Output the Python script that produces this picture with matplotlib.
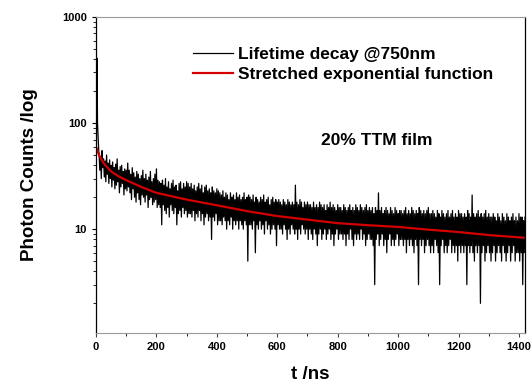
import numpy as np
import matplotlib.pyplot as plt
from matplotlib.ticker import LogLocator, NullFormatter, FixedLocator, MultipleLocator

plt.rcParams['font.family'] = ['Liberation Sans', 'DejaVu Sans']
plt.rcParams['font.weight'] = 'bold'

# early spike (1 ns bins)
t_early = [0, 1, 2, 3, 4, 5, 6, 7, 8, 9]
c_early = [30, 45, 120, 410, 260, 100, 85, 70, 60, 55]

# rest of the decay: 5 ns bins from 10 to 1420 ns, high and low count in each bin
t_main = np.arange(10, 1421, 5)
c_hi = [
    52, 48, 55, 46, 44, 50, 42, 45, 40, 43, 38, 41, 46, 36, 39, 40, 35, 37, 36, 42,
    36, 33, 38, 34, 31, 35, 33, 30, 32, 36, 30, 33, 29, 31, 35, 28, 30, 33, 37, 29,
    28, 27, 29, 26, 30, 25, 28, 24, 27, 29, 25, 26, 23, 27, 28, 24, 27, 25, 28, 27,
    25, 27, 24, 26, 23, 25, 27, 24, 26, 22, 25, 26, 23, 24, 22, 25, 23, 22, 24, 23,
    22, 21, 23, 20, 22, 21, 19, 22, 20, 21, 19, 22, 20, 21, 19, 20, 22, 19, 20, 21,
    20, 19, 21, 18, 20, 19, 18, 20, 19, 21, 18, 19, 20, 17, 19, 20, 18, 19, 18, 19,
    18, 17, 19, 18, 17, 19, 18, 17, 18, 17, 26, 18, 17, 19, 18, 16, 18, 17, 18, 17,
    17, 16, 18, 16, 17, 16, 18, 17, 16, 17, 15, 17, 16, 18, 16, 17, 16, 15, 17, 16,
    16, 15, 17, 16, 15, 16, 17, 15, 16, 15, 17, 16, 15, 17, 16, 15, 16, 17, 15, 16,
    15, 16, 14, 16, 15, 22, 15, 16, 14, 15, 16, 15, 14, 16, 15, 14, 16, 15, 14, 15,
    15, 14, 15, 16, 14, 15, 14, 16, 15, 14, 15, 14, 16, 15, 14, 15, 14, 15, 16, 14,
    14, 15, 14, 13, 15, 14, 13, 15, 14, 13, 14, 15, 13, 14, 15, 13, 14, 13, 15, 14,
    14, 13, 14, 13, 15, 14, 13, 21, 14, 13, 14, 15, 13, 14, 13, 14, 15, 13, 14, 13,
    13, 14, 13, 12, 14, 13, 12, 14, 13, 12, 14, 13, 12, 13, 14, 12, 13, 12, 14, 13,
    13, 12, 13,
]
c_lo = [
    36, 30, 38, 31, 28, 33, 27, 30, 25, 29, 24, 26, 28, 22, 25, 27, 21, 24, 23, 25,
    22, 19, 24, 20, 18, 22, 19, 17, 21, 20, 18, 21, 16, 19, 20, 17, 18, 19, 16, 17,
    16, 11, 17, 15, 14, 16, 13, 17, 15, 14, 16, 11, 14, 15, 13, 16, 14, 15, 13, 14,
    14, 13, 15, 12, 14, 13, 15, 12, 14, 11, 13, 14, 12, 13, 8, 13, 12, 14, 11, 12,
    12, 11, 13, 12, 10, 12, 11, 13, 10, 12, 11, 12, 10, 12, 11, 10, 12, 11, 5, 11,
    11, 10, 12, 6, 11, 10, 12, 10, 11, 9, 12, 10, 11, 9, 10, 11, 10, 7, 11, 10,
    10, 9, 11, 10, 8, 10, 9, 11, 10, 9, 10, 8, 10, 9, 11, 10, 9, 10, 8, 10,
    9, 8, 10, 9, 7, 9, 10, 8, 9, 10, 8, 9, 10, 8, 9, 7, 9, 10, 8, 9,
    9, 8, 9, 7, 9, 8, 10, 8, 7, 9, 8, 9, 8, 10, 8, 9, 7, 8, 9, 8,
    8, 7, 3, 8, 9, 7, 8, 9, 7, 8, 6, 8, 9, 7, 8, 7, 8, 9, 7, 8,
    8, 7, 8, 6, 8, 7, 8, 7, 6, 8, 7, 3, 8, 7, 8, 6, 7, 8, 7, 6,
    7, 6, 8, 7, 6, 3, 7, 8, 6, 7, 6, 7, 8, 6, 7, 6, 7, 5, 7, 6,
    7, 6, 7, 3, 7, 6, 7, 6, 5, 7, 6, 7, 2, 6, 7, 5, 6, 7, 6, 5,
    6, 7, 5, 6, 7, 6, 5, 7, 6, 5, 6, 7, 5, 6, 7, 5, 6, 6, 5, 6,
    3, 6, 5,
]

# stretched exponential fit
t_fit = [0, 10, 25, 50, 75, 100, 150, 200, 300, 400, 500, 600, 700, 800,
         900, 1000, 1100, 1200, 1300, 1420]
c_fit = [60, 50, 42, 35, 31.5, 29, 25, 22, 19, 16.8, 14.8, 13.3, 12.3, 11.4,
         10.9, 10.5, 9.9, 9.4, 8.8, 8.3]

# zig-zag through high/low of each bin so the trace reads like the raw histogram
t_zz = np.column_stack([t_main, t_main + 2.5]).ravel()
c_zz = np.column_stack([c_hi, c_lo]).ravel()
t_all = np.concatenate([t_early, t_zz])
c_all = np.concatenate([c_early, c_zz])
keep = t_all <= 1420
t_all, c_all = t_all[keep], c_all[keep]

fig = plt.figure(figsize=(5.31, 3.83), dpi=100)
ax = fig.add_axes([0.1808, 0.1305, 0.8079, 0.8251])

ax.plot(t_all, c_all, color='black', lw=0.9, label='Lifetime decay @750nm')
ax.plot(t_fit, c_fit, color='#d40000', lw=1.6, label='Stretched exponential function')

ax.set_yscale('log')
ax.set_xlim(0, 1420)
ax.set_ylim(1.05, 1000)

ax.yaxis.set_major_locator(FixedLocator([10, 100, 1000]))
ax.yaxis.set_minor_locator(LogLocator(base=10, subs=np.arange(2, 10)))
ax.yaxis.set_minor_formatter(NullFormatter())
ax.set_yticklabels(['10', '100', '1000'])
ax.xaxis.set_major_locator(MultipleLocator(200))
ax.xaxis.set_minor_locator(MultipleLocator(100))

ax.tick_params(axis='both', which='major', labelsize=8, length=3, width=0.8)
ax.tick_params(axis='both', which='minor', length=2, width=0.6)
ax.tick_params(axis='x', colors='#444444', labelcolor='black')

for s in ['top', 'bottom']:
    ax.spines[s].set_color('#999999')
for s in ['left', 'right']:
    ax.spines[s].set_color('black')
    ax.spines[s].set_linewidth(0.9)

ax.set_xlabel('t /ns', fontsize=13.5, fontweight='bold', labelpad=10)
ax.set_ylabel('Photon Counts /log', fontsize=13.5, fontweight='bold', labelpad=17)

leg = ax.legend(loc='upper left', bbox_to_anchor=(0.19, 0.955), frameon=False,
                fontsize=12.5, handlelength=2.3, handletextpad=0.3, labelspacing=0.28)
for txt in leg.get_texts():
    txt.set_fontweight('bold')

ax.text(0.655, 0.608, '20% TTM film', transform=ax.transAxes, ha='center',
        va='center', fontsize=12.5, fontweight='bold')

fig.savefig('out.png', dpi=100)
